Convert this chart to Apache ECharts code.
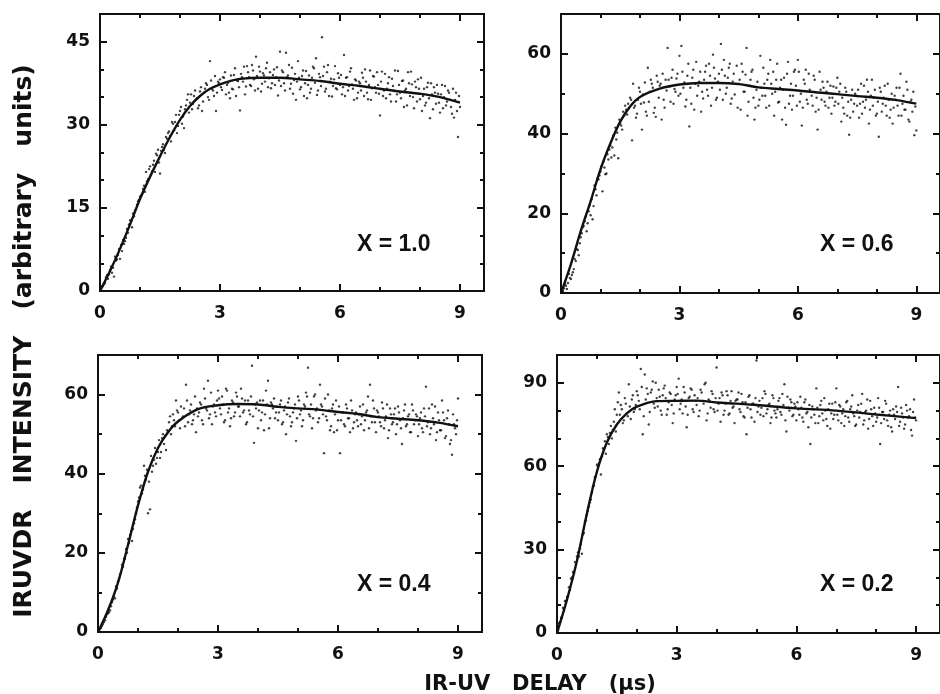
<!DOCTYPE html>
<html>
<head>
<meta charset="utf-8">
<script src="https://cdn.jsdelivr.net/npm/echarts@6/dist/echarts.min.js"></script>
<style>html,body{margin:0;padding:0;background:#fff}#c{width:940px;height:694px}</style>
</head>
<body>
<div id="c"></div>
<script>
// ---------- DATA ----------
const panelLabels = ['X = 1.0', 'X = 0.6', 'X = 0.4', 'X = 0.2'];
const xTitle = 'IR-UV   DELAY   (\u03bcs)';
const yTitle = 'IRUVDR   INTENSITY   (arbitrary   units)';
const xTicks = [0, 3, 6, 9];
const yMaxes = [50, 70, 70, 100];
const yMajor = [15, 20, 20, 30];
const yMinor = [5, 10, 10, 10];

// delay values of the measured points (microseconds), two interleaved sweeps
const delayA = [
0.05,0.1,0.15,0.2,0.25,0.3,0.35,0.4,0.45,0.5,
0.55,0.6,0.65,0.7,0.75,0.8,0.85,0.9,0.95,1,
1.05,1.1,1.15,1.2,1.25,1.3,1.35,1.4,1.45,1.5,
1.55,1.6,1.65,1.7,1.75,1.8,1.85,1.9,1.95,2,
2.05,2.1,2.15,2.2,2.25,2.3,2.35,2.4,2.45,2.5,
2.55,2.6,2.65,2.7,2.75,2.8,2.85,2.9,2.95,3,
3.05,3.1,3.15,3.2,3.25,3.3,3.35,3.4,3.45,3.5,
3.55,3.6,3.65,3.7,3.75,3.8,3.85,3.9,3.95,4,
4.05,4.1,4.15,4.2,4.25,4.3,4.35,4.4,4.45,4.5,
4.55,4.6,4.65,4.7,4.75,4.8,4.85,4.9,4.95,5,
5.05,5.1,5.15,5.2,5.25,5.3,5.35,5.4,5.45,5.5,
5.55,5.6,5.65,5.7,5.75,5.8,5.85,5.9,5.95,6,
6.05,6.1,6.15,6.2,6.25,6.3,6.35,6.4,6.45,6.5,
6.55,6.6,6.65,6.7,6.75,6.8,6.85,6.9,6.95,7,
7.05,7.1,7.15,7.2,7.25,7.3,7.35,7.4,7.45,7.5,
7.55,7.6,7.65,7.7,7.75,7.8,7.85,7.9,7.95,8,
8.05,8.1,8.15,8.2,8.25,8.3,8.35,8.4,8.45,8.5,
8.55,8.6,8.65,8.7,8.75,8.8,8.85,8.9,8.95,9
];
const delayB = [
0.025,0.075,0.125,0.175,0.225,0.275,0.325,0.375,0.425,0.475,
0.525,0.575,0.625,0.675,0.725,0.775,0.825,0.875,0.925,0.975,
1.025,1.075,1.125,1.175,1.225,1.275,1.325,1.375,1.425,1.475,
1.525,1.575,1.625,1.675,1.725,1.775,1.825,1.875,1.925,1.975,
2.025,2.075,2.125,2.175,2.225,2.275,2.325,2.375,2.425,2.475,
2.525,2.575,2.625,2.675,2.725,2.775,2.825,2.875,2.925,2.975,
3.025,3.075,3.125,3.175,3.225,3.275,3.325,3.375,3.425,3.475,
3.525,3.575,3.625,3.675,3.725,3.775,3.825,3.875,3.925,3.975,
4.025,4.075,4.125,4.175,4.225,4.275,4.325,4.375,4.425,4.475,
4.525,4.575,4.625,4.675,4.725,4.775,4.825,4.875,4.925,4.975,
5.025,5.075,5.125,5.175,5.225,5.275,5.325,5.375,5.425,5.475,
5.525,5.575,5.625,5.675,5.725,5.775,5.825,5.875,5.925,5.975,
6.025,6.075,6.125,6.175,6.225,6.275,6.325,6.375,6.425,6.475,
6.525,6.575,6.625,6.675,6.725,6.775,6.825,6.875,6.925,6.975,
7.025,7.075,7.125,7.175,7.225,7.275,7.325,7.375,7.425,7.475,
7.525,7.575,7.625,7.675,7.725,7.775,7.825,7.875,7.925,7.975,
8.025,8.075,8.125,8.175,8.225,8.275,8.325,8.375,8.425,8.475,
8.525,8.575,8.625,8.675,8.725,8.775,8.825,8.875,8.925,8.975
];

const pointsX10A = [
0.8,1.2,2.5,2.2,3.8,3.3,2.6,5.5,6.5,5.8,
7.2,8.5,9.6,10.5,12.8,11.5,13.5,14.8,16.2,17.0,
17.5,19.0,21.5,20.2,22.5,21.6,23.5,24.8,25.5,21.2,
26.0,25.5,27.8,28.5,28.0,30.5,29.0,31.8,29.8,32.5,
30.2,29.4,33.5,35.5,34.0,32.8,35.2,34.5,33.0,36.0,
32.5,35.8,37.5,35.0,41.5,36.5,35.2,32.5,37.8,38.2,
36.3,38.5,35.5,37.6,34.8,36.5,39.0,35.2,37.9,32.6,
38.6,40.5,36.9,39.5,37.2,40.8,38.2,42.3,36.5,39.6,
37.4,38.9,40.2,36.8,39.5,37.5,40.0,38.6,35.3,43.2,
39.8,37.5,43.0,38.9,36.5,40.3,38.1,34.5,41.5,36.4,
38.8,35.2,39.7,37.2,35.8,38.5,40.2,42.0,36.2,38.6,
45.8,40.5,36.5,40.8,37.8,35.1,38.2,36.6,39.3,37.2,
35.5,42.6,38.5,36.2,39.6,37.3,34.5,38.0,35.8,37.5,
39.4,35.2,37.8,34.6,39.8,36.6,38.7,35.8,37.2,31.7,
39.6,36.2,34.8,37.5,35.5,38.3,36.1,34.2,39.7,35.8,
37.9,33.2,36.5,39.5,35.2,37.3,33.0,36.8,38.2,34.6,
32.5,36.5,34.0,37.6,31.2,35.5,36.8,33.8,35.6,32.2,
37.2,35.0,33.5,36.2,34.5,32.0,31.3,35.8,27.8,33.2
];
const pointsX10B = [
0.4,0.9,1.5,2.9,3.0,4.4,4.2,6.2,5.7,7.6,
8.3,9.2,9.0,11.2,12.0,12.6,14.0,14.5,15.6,16.5,
17.2,18.4,17.9,19.8,22.0,21.0,22.8,21.5,24.5,23.2,
25.3,26.5,24.9,27.5,28.8,27.0,30.2,30.5,28.5,31.8,
33.2,31.5,32.8,34.5,32.2,35.5,33.8,36.2,34.8,33.5,
36.8,34.2,36.5,37.2,34.5,38.0,36.2,38.8,35.8,37.5,
36.8,38.6,39.5,37.2,35.8,38.9,36.4,40.2,38.0,36.8,
39.2,37.8,35.5,40.6,38.6,37.0,39.8,36.2,38.8,40.5,
36.0,39.3,37.8,41.2,38.4,36.6,39.0,37.2,40.4,38.0,
37.0,39.5,36.2,38.6,40.8,37.4,35.6,39.2,37.8,38.5,
36.8,39.8,37.5,34.8,38.9,36.5,40.5,37.6,35.4,39.2,
37.0,38.8,36.0,39.5,35.2,38.3,37.0,40.6,36.4,38.5,
39.0,36.8,35.2,38.6,37.0,40.2,36.5,38.2,34.8,37.8,
36.2,38.5,40.0,35.8,37.2,34.5,38.8,36.8,39.5,35.6,
37.8,35.2,39.2,36.5,38.6,34.2,37.0,39.8,35.5,37.2,
34.8,38.0,36.2,33.5,37.5,39.6,35.0,37.8,34.2,36.5,
38.5,35.2,33.5,36.8,34.8,37.5,32.8,35.8,37.2,34.0,
35.5,33.0,37.0,34.2,35.8,33.2,36.5,34.5,32.5,35.2
];
const pointsX06A = [
0.5,2.2,1.0,4.8,3.5,5.2,8.5,11.0,9.5,14.0,
16.5,18.0,15.5,20.5,19.5,18.5,27.0,24.5,28.5,30.5,
25.5,31.5,30.0,33.5,37.0,36.5,34.5,38.5,33.8,42.5,
41.0,44.5,46.0,47.5,49.0,38.3,46.5,44.0,48.5,50.5,
41.0,47.8,45.5,56.5,50.5,52.5,45.2,44.2,53.0,52.0,
43.5,48.5,53.5,61.5,51.8,54.0,47.5,50.5,55.0,59.5,
62.0,51.5,46.8,54.5,41.8,47.5,56.0,52.5,49.5,53.0,
45.5,48.8,55.5,51.0,57.5,47.0,59.8,53.8,49.0,55.0,
62.5,48.5,54.5,51.5,56.5,47.5,53.0,49.8,57.0,52.5,
46.0,55.5,50.5,61.5,48.0,53.5,56.0,43.5,51.0,47.0,
59.5,49.5,52.5,46.5,55.0,58.5,50.0,44.5,53.5,47.8,
51.5,43.5,54.0,42.2,58.0,49.5,46.0,55.5,52.0,58.5,
48.0,42.0,53.5,56.0,47.5,51.0,49.5,54.5,45.5,41.0,
55.5,48.5,51.5,47.0,53.0,49.0,45.0,51.8,48.0,54.0,
50.5,43.0,46.5,51.5,44.5,39.7,48.5,45.5,50.0,47.0,
44.0,52.5,48.0,46.5,53.5,42.5,49.5,47.0,51.0,45.0,
39.2,50.5,47.5,52.0,44.5,48.5,46.0,42.5,49.5,51.5,
44.5,55.0,47.5,46.0,53.0,43.5,48.0,45.5,39.6,40.8
];
const pointsX06B = [
0.3,1.2,1.8,2.5,3.8,4.5,6.0,8.0,10.8,12.5,
15.0,16.8,19.2,17.5,22.0,23.5,21.8,26.0,28.8,29.5,
31.8,33.0,29.8,34.8,36.0,34.0,39.5,41.5,40.2,43.5,
42.0,45.5,47.0,44.8,46.5,48.5,52.5,47.0,45.0,51.5,
47.5,49.8,52.8,44.5,48.0,53.5,51.5,46.5,54.5,49.0,
52.5,55.0,46.5,50.8,53.5,48.0,56.0,51.2,53.8,49.5,
50.0,55.5,52.8,48.5,57.5,51.5,54.0,46.0,58.0,52.0,
55.5,50.5,53.5,57.0,49.5,54.5,51.5,56.5,48.5,53.0,
51.0,56.0,58.5,50.0,54.0,57.5,48.8,55.0,52.5,46.5,
53.5,57.5,50.5,54.8,44.5,52.0,55.5,49.0,46.5,53.0,
48.5,51.5,56.5,49.5,53.5,47.0,52.5,55.5,50.5,57.5,
48.0,53.5,51.0,46.5,55.0,47.5,52.5,49.5,56.0,47.0,
55.5,50.0,46.5,52.5,48.5,55.0,50.5,47.0,53.5,49.0,
46.0,51.0,53.0,48.0,50.5,46.5,52.0,49.0,47.0,51.5,
47.5,52.5,49.0,45.0,50.5,48.0,44.0,51.0,47.5,49.5,
51.0,47.5,45.0,52.0,48.5,50.5,46.0,53.5,49.0,44.5,
48.0,51.5,45.5,49.0,47.0,52.5,44.0,50.0,46.5,48.5,
47.0,51.5,44.5,49.5,46.0,51.0,43.0,48.5,50.5,46.8
];
const pointsX04A = [
0.8,1.5,2.5,3.8,4.8,5.5,7.5,9.0,11.5,12.8,
14.5,17.0,18.5,21.0,23.5,24.5,23.0,27.5,30.0,33.0,
36.5,35.0,42.0,38.5,30.0,31.0,40.5,43.5,42.5,45.5,
44.0,49.0,47.5,46.0,50.5,54.5,52.0,53.5,58.5,55.5,
51.5,54.0,56.5,62.5,53.0,56.0,52.5,55.0,50.5,54.5,
58.0,53.5,61.5,56.5,63.5,55.0,52.5,57.5,54.5,61.0,
56.5,59.5,53.0,61.5,55.5,52.0,58.5,54.5,60.5,57.0,
54.5,59.0,56.0,52.5,58.5,55.0,67.3,47.8,56.5,51.5,
58.5,55.5,51.0,61.0,63.5,54.0,57.5,59.0,55.5,53.5,
57.5,52.5,56.0,50.0,58.0,54.5,53.0,56.5,48.3,59.5,
55.0,52.0,57.5,60.5,66.8,54.5,51.5,59.5,56.0,53.0,
62.5,57.0,45.2,54.5,60.0,51.0,56.5,50.5,58.5,53.5,
45.2,55.5,52.5,57.5,54.0,50.5,56.0,53.0,55.5,52.0,
57.0,54.5,51.0,55.5,59.5,62.5,53.0,56.5,50.5,55.5,
53.0,58.0,51.5,54.5,49.0,56.5,52.5,55.0,50.0,57.0,
53.5,47.5,56.0,52.0,54.5,50.5,57.5,52.5,55.0,49.5,
54.0,51.5,56.5,62.0,53.0,50.0,57.5,52.5,48.5,55.5,
51.0,58.5,53.5,49.5,56.0,47.5,44.8,52.5,50.0,59.0
];
const pointsX04B = [
0.4,1.0,2.0,3.0,4.5,5.0,6.5,8.2,8.5,11.0,
13.5,15.0,16.5,18.5,20.0,22.5,25.5,26.0,28.5,31.5,
34.0,37.0,36.0,39.5,41.0,38.0,44.5,42.0,46.5,44.0,
48.5,45.5,50.0,49.5,51.0,53.0,50.0,55.0,52.0,56.0,
53.5,57.0,54.5,52.0,58.5,55.0,57.5,53.5,59.5,56.5,
55.5,57.5,52.5,59.0,56.0,54.0,60.5,57.0,55.5,58.5,
59.0,55.0,57.5,53.5,61.0,56.5,54.0,58.0,55.5,59.5,
57.0,61.5,55.5,58.5,53.0,56.0,59.5,54.5,57.5,58.0,
56.0,53.5,58.5,55.0,57.5,51.5,58.0,56.5,54.0,57.0,
55.5,58.5,53.0,57.0,55.0,59.0,52.0,55.5,57.5,54.0,
58.5,56.0,53.5,57.0,59.5,55.0,57.5,54.0,60.0,56.5,
54.0,57.5,55.0,59.0,53.5,56.0,52.0,57.5,55.0,51.0,
57.0,53.5,55.5,52.0,56.5,54.0,58.5,51.5,55.0,53.5,
55.0,52.5,57.5,53.5,56.0,51.5,54.5,58.5,53.0,56.0,
54.5,52.0,56.5,53.5,57.5,51.0,55.0,53.0,56.5,52.5,
55.5,51.5,54.0,57.5,52.5,55.0,50.5,56.0,53.5,54.5,
52.5,55.5,50.5,54.5,52.0,56.5,51.5,54.0,57.0,50.5,
53.5,51.0,55.5,49.0,54.0,52.5,48.5,55.0,51.5,53.5
];
const pointsX02A = [
3.5,5.5,9.0,11.5,13.0,16.5,19.5,22.0,25.5,27.5,
27.5,32.0,35.5,40.0,42.5,45.5,48.0,52.5,56.0,60.5,
61.0,57.0,66.5,69.0,71.5,68.0,74.5,73.0,80.5,78.5,
86.5,82.0,75.5,84.5,79.0,89.5,77.0,85.5,80.5,87.0,
83.5,95.0,71.5,93.0,88.0,75.0,86.5,90.5,81.0,84.5,
87.5,80.0,85.5,89.0,78.5,83.0,86.0,75.5,84.0,88.5,
91.5,82.5,79.0,86.5,74.0,84.5,88.0,80.5,85.5,82.0,
78.0,87.5,83.5,89.5,76.5,84.0,81.0,86.0,79.5,95.5,
82.5,76.0,85.5,80.0,87.0,78.5,83.5,81.0,75.5,84.0,
86.5,79.5,83.0,77.5,71.5,85.0,80.5,82.5,76.0,98.0,
81.5,78.5,84.5,87.0,79.0,82.0,75.5,85.5,80.0,77.5,
83.5,79.5,86.0,89.5,72.5,81.0,84.0,78.0,82.5,76.5,
80.5,85.0,77.5,83.0,79.0,74.0,68.0,81.5,78.5,88.0,
75.5,82.0,79.0,84.5,77.0,80.5,73.5,82.5,78.5,88.0,
76.5,81.5,79.0,74.5,83.0,77.5,80.5,85.5,78.0,75.0,
82.0,79.5,86.0,76.5,80.0,73.5,83.5,78.0,81.0,76.0,
84.5,68.0,79.5,77.0,82.5,74.5,80.0,72.5,78.5,81.5,
88.5,76.0,79.0,73.5,82.0,77.5,80.5,71.0,84.0,76.5
];
const pointsX02B = [
1.0,4.0,5.5,8.0,11.5,13.0,15.5,20.0,21.5,24.5,
29.0,30.5,28.5,36.0,40.5,44.0,47.0,50.5,53.0,56.5,
60.0,62.5,63.5,66.0,64.5,70.5,72.0,70.0,76.0,72.5,
83.0,78.5,80.5,76.5,82.5,78.0,81.5,84.0,79.5,82.0,
85.5,80.5,88.5,78.0,84.0,86.0,79.5,87.5,82.5,90.0,
81.5,85.0,78.5,88.0,84.5,80.5,86.5,82.0,79.0,85.5,
86.0,80.5,84.0,88.5,81.5,78.5,85.0,87.5,79.5,83.5,
84.5,80.0,86.5,82.5,90.0,79.0,83.5,87.0,80.5,84.5,
80.0,84.5,86.5,78.5,82.5,85.5,79.0,87.0,81.5,83.5,
84.0,80.5,86.0,78.0,83.0,81.0,85.5,77.5,82.5,84.5,
79.5,83.5,81.0,78.0,86.0,80.5,82.5,77.5,84.5,79.0,
80.5,84.5,78.5,82.0,76.5,85.0,80.0,83.0,78.5,81.5,
83.0,78.5,81.0,76.0,84.0,79.5,82.0,77.5,80.5,75.5,
81.0,78.0,83.5,76.5,80.0,74.5,82.5,79.0,77.0,83.0,
78.5,82.0,75.5,80.5,78.0,83.5,76.0,81.5,79.0,74.5,
80.0,77.5,82.5,75.0,79.5,84.0,77.0,80.5,74.5,79.0,
77.5,81.0,75.5,79.5,83.5,76.5,78.5,74.0,80.5,77.0,
79.5,74.5,81.0,77.5,75.0,80.0,78.0,73.0,79.5,77.5
];

// fitted curves [delay, intensity]
const fitX10 = [[0,0],[0.25,3.6],[0.5,7.6],[0.75,12],[1,16.6],[1.25,20.6],[1.5,24.3],[1.75,27.8],[2,30.9],[2.25,33.4],[2.5,35.2],[2.75,36.5],[3,37.3],[3.25,37.9],[3.5,38.3],[4,38.5],[4.5,38.5],[5,38.2],[5.5,37.9],[6,37.4],[6.5,37],[7,36.5],[7.5,36],[8,35.6],[8.5,35],[9,34]];
const fitX06 = [[0,0],[0.25,7.2],[0.5,15.5],[0.75,23],[1,31],[1.25,37.5],[1.5,43],[1.75,46.8],[2,49.2],[2.5,51.3],[3,52.3],[3.5,52.7],[4,52.7],[4.5,52.4],[5,51.6],[5.5,51.2],[6,50.8],[6.5,50.3],[7,49.9],[7.5,49.4],[8,49],[8.5,48.4],[9,47.5]];
const fitX04 = [[0,0],[0.25,5.5],[0.5,12.5],[0.75,22],[1,32],[1.25,40.5],[1.5,46.5],[1.75,50.5],[2,53.2],[2.5,56.3],[3,57.3],[3.5,57.6],[4,57.5],[4.5,56.9],[5,56.5],[5.5,56.2],[6,55.6],[6.5,55.1],[7,54.3],[7.5,53.9],[8,53.5],[8.5,52.9],[9,52]];
const fitX02 = [[0,0],[0.25,12],[0.5,26],[0.75,43],[1,58],[1.25,68.5],[1.5,75],[1.75,79],[2,81.4],[2.5,83.4],[3,83.5],[3.5,83.6],[4,82.9],[4.5,82.5],[5,82],[6,80.8],[7,80],[8,78.6],[9,77.3]];

// ---------- LAYOUT ----------
const X_MAX = 9.6;
const grids = [
  {left: 100, top: 14, width: 384, height: 277},
  {left: 561, top: 14, width: 387, height: 279},
  {left: 98, top: 355, width: 384, height: 277},
  {left: 557, top: 355, width: 386, height: 278}
];
const labelPos = [
  {left: 352, top: 228}, {left: 815, top: 228},
  {left: 352, top: 568}, {left: 815, top: 568}
];
const pointSets = [[pointsX10A, pointsX10B], [pointsX06A, pointsX06B], [pointsX04A, pointsX04B], [pointsX02A, pointsX02B]];
const fits = [fitX10, fitX06, fitX04, fitX02];

const FONT = 'DejaVu Sans';
const black = '#111';
const lineStyle = {color: black, width: 2};
const labelStyle = {color: black, fontFamily: FONT, fontWeight: 'bold', fontSize: 17};

const xAxes = [], yAxes = [], series = [], titles = [];
grids.forEach((g, i) => {
  const xb = {type: 'value', gridIndex: i, min: 0, max: X_MAX, splitLine: {show: false},
    axisLine: {show: true, onZero: false, lineStyle}};
  xAxes.push(
    Object.assign({}, xb, {position: 'bottom', interval: 3,
      axisTick: {inside: true, length: 7, lineStyle},
      axisLabel: Object.assign({margin: 14, showMaxLabel: false,
        formatter: v => xTicks.indexOf(v) >= 0 ? String(v) : ''}, labelStyle)}),
    Object.assign({}, xb, {position: 'bottom', interval: 1,
      axisTick: {inside: true, length: 4, lineStyle}, axisLabel: {show: false}}),
    Object.assign({}, xb, {position: 'top', interval: 3,
      axisTick: {inside: true, length: 7, lineStyle}, axisLabel: {show: false}}),
    Object.assign({}, xb, {position: 'top', interval: 1,
      axisTick: {inside: true, length: 4, lineStyle}, axisLabel: {show: false}})
  );
  const yb = {type: 'value', gridIndex: i, min: 0, max: yMaxes[i], splitLine: {show: false},
    axisLine: {show: true, onZero: false, lineStyle}};
  yAxes.push(
    Object.assign({}, yb, {position: 'left', interval: yMajor[i],
      axisTick: {inside: true, length: 7, lineStyle},
      axisLabel: Object.assign({margin: 10, showMaxLabel: false,
        formatter: v => (v % yMajor[i] === 0) ? String(v) : ''}, labelStyle)}),
    Object.assign({}, yb, {position: 'left', interval: yMinor[i],
      axisTick: {inside: true, length: 4, lineStyle}, axisLabel: {show: false}}),
    Object.assign({}, yb, {position: 'right', interval: yMajor[i],
      axisTick: {inside: true, length: 7, lineStyle}, axisLabel: {show: false}}),
    Object.assign({}, yb, {position: 'right', interval: yMinor[i],
      axisTick: {inside: true, length: 4, lineStyle}, axisLabel: {show: false}})
  );
  const pts = delayA.map((d, k) => [d, pointSets[i][0][k]])
    .concat(delayB.map((d, k) => [d, pointSets[i][1][k]]));
  series.push({
    type: 'scatter', xAxisIndex: i * 4, yAxisIndex: i * 4,
    data: pts, symbolSize: 2.4, itemStyle: {color: black}, silent: true
  });
  series.push({
    type: 'line', xAxisIndex: i * 4, yAxisIndex: i * 4,
    data: fits[i], smooth: 0.35, showSymbol: false,
    lineStyle: {color: black, width: 2.4}, silent: true
  });
  titles.push({text: panelLabels[i], left: labelPos[i].left, top: labelPos[i].top,
    textStyle: {color: black, fontFamily: 'Liberation Sans', fontWeight: 'bold', fontSize: 23}});
});

const chart = echarts.init(document.getElementById('c'), null, {renderer: 'canvas'});
chart.setOption({
  animation: false,
  backgroundColor: '#fff',
  title: titles,
  grid: grids,
  xAxis: xAxes,
  yAxis: yAxes,
  series: series,
  graphic: [
    {type: 'text', x: 24, y: 341, rotation: Math.PI / 2,
      style: {text: yTitle, fill: black, font: 'bold 25px "DejaVu Sans"', textAlign: 'center', textVerticalAlign: 'middle'}},
    {type: 'text', x: 540, y: 685,
      style: {text: xTitle, fill: black, font: 'bold 21px "DejaVu Sans"', textAlign: 'center', textVerticalAlign: 'middle'}}
  ]
});
</script>
</body>
</html>
